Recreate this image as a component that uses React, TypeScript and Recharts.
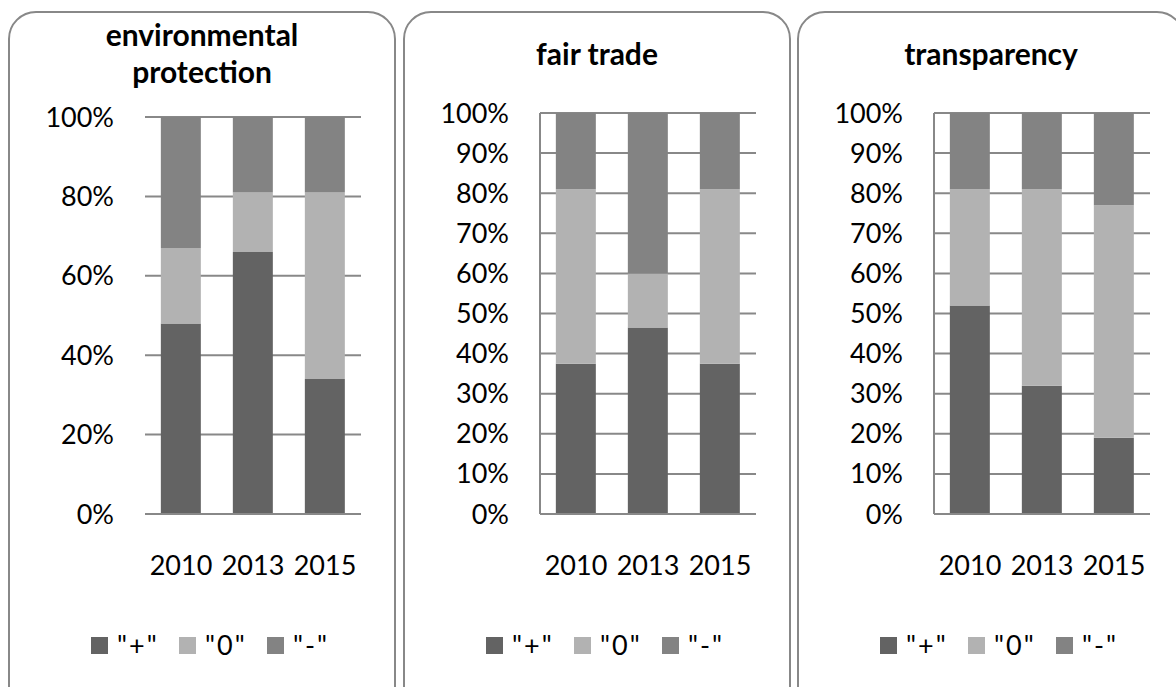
import React from 'react';
import { BarChart, Bar, XAxis, YAxis, CartesianGrid, Legend } from 'recharts';

const years = ['2010', '2013', '2015'];

const envPlus = [48, 66, 34];
const envZero = [19, 15, 47];
const envMinus = [33, 19, 19];

const fairPlus = [37.5, 46.5, 37.5];
const fairZero = [43.5, 13.5, 43.5];
const fairMinus = [19, 40, 19];

const transPlus = [52, 32, 19];
const transZero = [29, 49, 58];
const transMinus = [19, 19, 23];

const envTicks = [0, 20, 40, 60, 80, 100];
const tenTicks = [0, 10, 20, 30, 40, 50, 60, 70, 80, 90, 100];

const seriesNames = ['"+"', '"0"', '"-"'];
const seriesColors = ['#636363', '#b2b2b2', '#838383'];

const FONT = 'Lato, "Open Sans", sans-serif';
const GRID = '#888888';

const renderLegend = (props: any) => {
  const payload = [...(props.payload || [])].sort(
    (a: any, b: any) => seriesNames.indexOf(a.value) - seriesNames.indexOf(b.value)
  );
  return (
    <div
      style={{
        display: 'flex',
        alignItems: 'center',
        height: 24,
        paddingLeft: 82,
        fontSize: 27,
        fontFamily: FONT,
        color: '#000',
        boxSizing: 'border-box',
      }}
    >
      {payload.map((p: any, i: number) => (
        <div key={i} style={{ display: 'flex', alignItems: 'center', width: 88, height: 24, flex: 'none' }}>
          <span style={{ display: 'inline-block', width: 17, height: 17, background: p.color, marginRight: 9, flex: 'none' }} />
          <span style={{ lineHeight: '24px', whiteSpace: 'pre', letterSpacing: 2 }}>{p.value}</span>
        </div>
      ))}
    </div>
  );
};

type PanelProps = {
  left: number;
  titleLines: string[];
  plus: number[];
  zero: number[];
  minus: number[];
  ticks: number[];
  plotTop: number;
  axisLine: boolean;
};

function Panel({ left, titleLines, plus, zero, minus, ticks, plotTop, axisLine }: PanelProps) {
  const data = years.map((y, i) => ({ year: y, plus: plus[i], zero: zero[i], minus: minus[i] }));
  const twoLines = titleLines.length > 1;
  return (
    <>
      <div
        style={{
          position: 'absolute',
          left: left - 1,
          top: 11,
          width: 388,
          height: 720,
          border: `2px solid ${GRID}`,
          borderRadius: 28,
          boxSizing: 'border-box',
        }}
      />
      <div
        style={{
          position: 'absolute',
          left,
          top: twoLines ? 16 : 35,
          width: 386,
          textAlign: 'center',
          fontFamily: FONT,
          fontWeight: 700,
          fontSize: 30,
          lineHeight: twoLines ? '37px' : '36px',
          color: '#000',
        }}
      >
        {titleLines.map((t, i) => (
          <div key={i}>{t}</div>
        ))}
      </div>
      <div style={{ position: 'absolute', left, top: 0, width: 386, height: 687 }}>
        <BarChart
          width={386}
          height={687}
          data={data}
          margin={{ top: plotTop, right: 34, left: 76, bottom: 30 }}
          barCategoryGap="22%"
          style={{ fontFamily: FONT }}
        >
          <CartesianGrid vertical={false} stroke={GRID} strokeWidth={2} />
          <XAxis
            dataKey="year"
            height={119}
            tickLine={false}
            tickSize={0}
            tickMargin={42}
            interval={0}
            axisLine={{ stroke: GRID, strokeWidth: 2 }}
            tick={{ fill: '#000', fontSize: 27, fontFamily: FONT }}
          />
          <YAxis
            width={60}
            domain={[0, 100]}
            ticks={ticks}
            interval={0}
            tickFormatter={(v: number) => `${v}%`}
            tickLine={false}
            tickSize={0}
            tickMargin={31}
            axisLine={axisLine ? { stroke: GRID, strokeWidth: 2 } : false}
            tick={{ fill: '#000', fontSize: 27, fontFamily: FONT }}
          />
          <Legend verticalAlign="bottom" content={renderLegend} wrapperStyle={{ left: 0, width: 386 }} />
          <Bar dataKey="plus" name={seriesNames[0]} stackId="s" fill={seriesColors[0]} isAnimationActive={false} />
          <Bar dataKey="zero" name={seriesNames[1]} stackId="s" fill={seriesColors[1]} isAnimationActive={false} />
          <Bar dataKey="minus" name={seriesNames[2]} stackId="s" fill={seriesColors[2]} isAnimationActive={false} />
        </BarChart>
      </div>
    </>
  );
}

export default function App() {
  return (
    <div
      style={{
        position: 'absolute',
        left: 0,
        top: 0,
        width: 1176,
        height: 687,
        overflow: 'hidden',
        background: '#fff',
      }}
    >
      <Panel
        left={9}
        titleLines={['environmental', 'protection']}
        plus={envPlus}
        zero={envZero}
        minus={envMinus}
        ticks={envTicks}
        plotTop={117}
        axisLine={false}
      />
      <Panel
        left={404}
        titleLines={['fair trade']}
        plus={fairPlus}
        zero={fairZero}
        minus={fairMinus}
        ticks={tenTicks}
        plotTop={113}
        axisLine={true}
      />
      <Panel
        left={798}
        titleLines={['transparency']}
        plus={transPlus}
        zero={transZero}
        minus={transMinus}
        ticks={tenTicks}
        plotTop={113}
        axisLine={true}
      />
    </div>
  );
}
